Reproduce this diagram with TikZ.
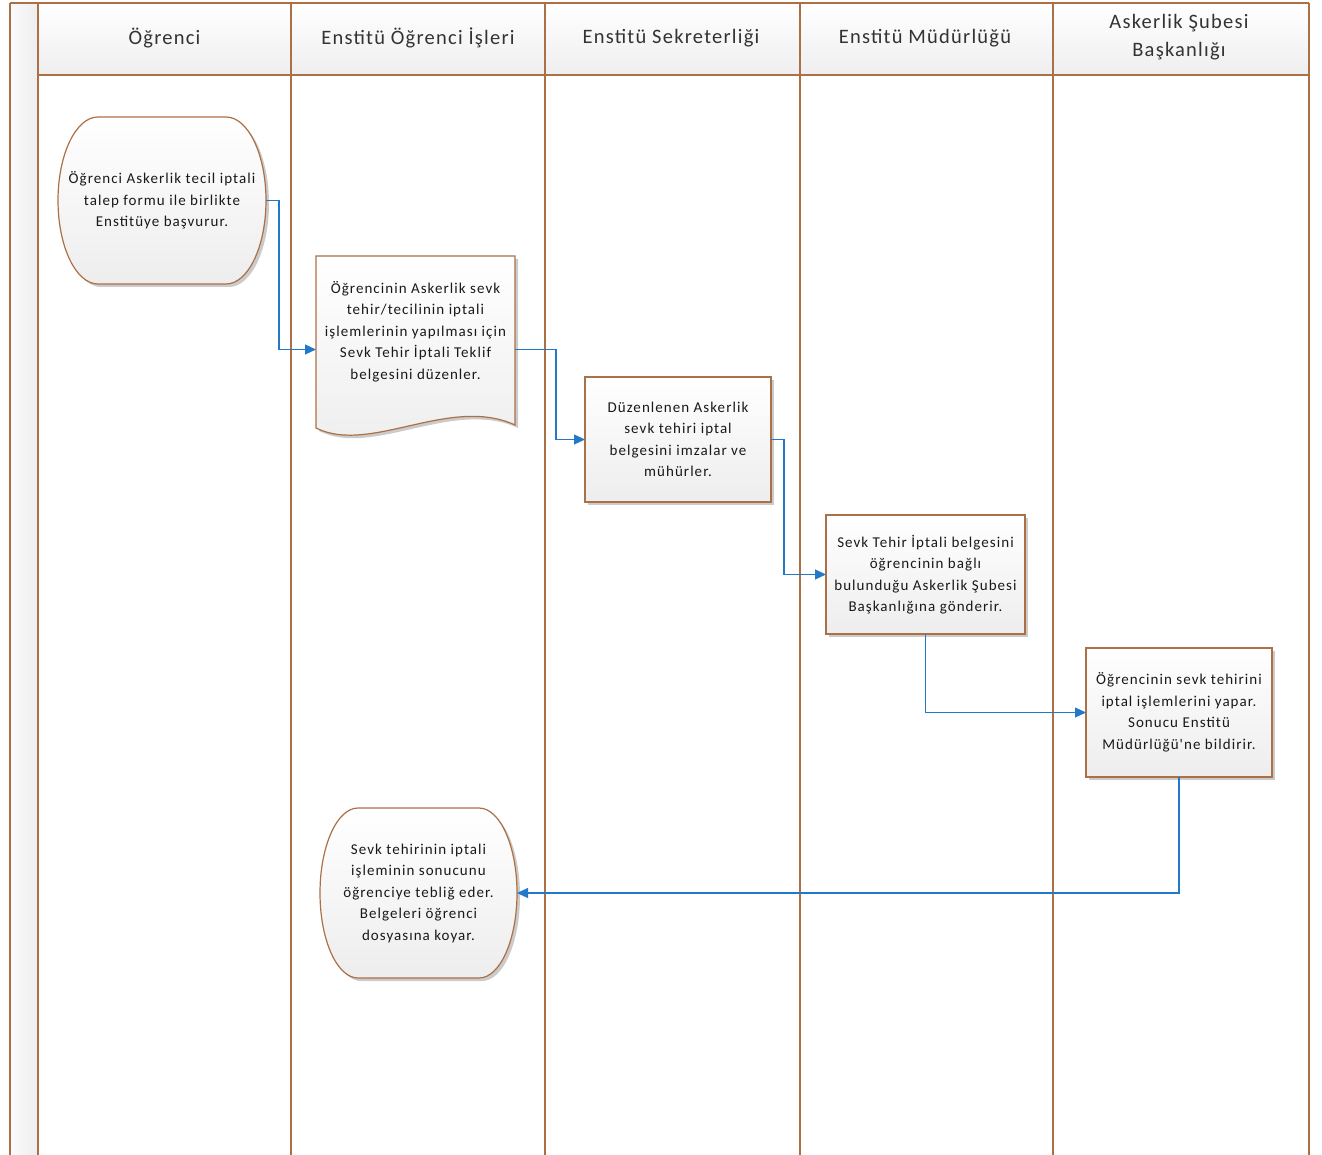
\documentclass[tikz,border=0pt]{standalone}
\usepackage{fontspec}
\setmainfont{Carlito}
\newfontfamily\flowfont[LetterSpace=7]{Carlito}
\newfontfamily\headfont[LetterSpace=6]{Carlito}
\usepackage{tikz}
\usetikzlibrary{arrows.meta,shadows,calc,backgrounds}
\definecolor{laneline}{RGB}{172,112,70}
\definecolor{flowblue}{RGB}{36,120,200}

\newcommand{\termshape}[3]{%
  \draw[shapeline] ([xshift=#2]#1.north west) -- ([xshift=-#2]#1.north east)
    arc[start angle=90,end angle=-90,x radius=#2,y radius=#3]
    -- ([xshift=#2]#1.south west)
    arc[start angle=270,end angle=90,x radius=#2,y radius=#3] -- cycle;}

\begin{document}
\begin{tikzpicture}[x=1pt,y=1pt,
  lane/.style={draw=laneline,line width=1.6pt},
  shapeline/.style={draw=laneline,line width=1.2pt,top color=white,bottom color=gray!14,
    drop shadow={shadow xshift=3pt,shadow yshift=-3pt,fill=black!45,opacity=.45}},
  head/.style={font=\headfont\fontsize{20.5}{28}\selectfont,align=center,text=black!80},
  txt/.style={font=\flowfont\fontsize{15}{21.5}\selectfont,align=center,inner sep=0pt,outer sep=0pt,text=black!90},
  box/.style={txt,shapeline,rectangle},
  flow/.style={draw=flowblue,line width=1.2pt,-{Triangle[length=11pt,width=10pt]}}]
\useasboundingbox (0,0) rectangle (1322,-1155);
%%Lanes
\shade[left color=gray!3,right color=gray!14] (10,-3) rectangle (38,-1160);
\shade[top color=white,bottom color=gray!13] (38,-3) rectangle (1309,-75);
\draw[lane] (10,-3) -- (1309,-3);
\draw[lane] (38,-75) -- (1309,-75);
\draw[lane] (10,-3) -- (10,-1160);
\draw[lane] (38,-3) -- (38,-1160);
\draw[lane] (291,-3) -- (291,-1160);
\draw[lane] (545,-3) -- (545,-1160);
\draw[lane] (800,-3) -- (800,-1160);
\draw[lane] (1053,-3) -- (1053,-1160);
\draw[lane] (1309,-3) -- (1309,-1160);
%%Headers
\node[head] (hOgrenci) at (164.5,-38) {Öğrenci};
\node[head] (hIsler) at (418,-38) {Enstitü Öğrenci İşleri};
\node[head] (hSekreter) at (671,-38) {Enstitü Sekreterliği};
\node[head] (hMudur) at (925,-38) {Enstitü Müdürlüğü};
\node[head] (hSube) at (1179,-37) {Askerlik Şubesi\\Başkanlığı};
%%Steps
\node[txt,minimum width=208pt,minimum height=167pt] (basvuru) at (162,-200.5)
  {Öğrenci Askerlik tecil iptali\\talep formu ile birlikte\\Enstitüye başvurur.};
\node[minimum width=199pt,minimum height=187pt,inner sep=0pt,outer sep=0pt] (dok) at (415.5,-349.5) {};
\node[txt] (doktext) at ([yshift=18pt]dok.center)
  {Öğrencinin Askerlik sevk\\tehir/tecilinin iptali\\işlemlerinin yapılması için\\Sevk Tehir İptali Teklif\\belgesini düzenler.};
\node[box,minimum width=186pt,minimum height=125pt] (imza) at (678,-439.5)
  {Düzenlenen Askerlik\\sevk tehiri iptal\\belgesini imzalar ve\\mühürler.};
\node[box,minimum width=199pt,minimum height=119pt] (mudur) at (925.5,-574.5)
  {Sevk Tehir İptali belgesini\\öğrencinin bağlı\\bulunduğu Askerlik Şubesi\\Başkanlığına gönderir.};
\node[box,minimum width=186pt,minimum height=129pt] (sube) at (1179,-712.5)
  {Öğrencinin sevk tehirini\\iptal işlemlerini yapar.\\Sonucu Enstitü\\Müdürlüğü'ne bildirir.};
\node[txt,minimum width=197pt,minimum height=170pt] (sonuc) at (418.5,-893)
  {Sevk tehirinin iptali\\işleminin sonucunu\\öğrenciye tebliğ eder.\\Belgeleri öğrenci\\dosyasına koyar.};
%%Outlines
\begin{scope}[on background layer]
\termshape{basvuru}{40pt}{83.5pt}
\termshape{sonuc}{38pt}{85pt}
\draw[shapeline] (dok.north west) -- (dok.north east) -- ($(dok.south east)+(0,18)$)
  .. controls ($(dok.south east)+(-65,48)$) and ($(dok.south west)+(54,-12)$) .. ($(dok.south west)+(0,15)$) -- cycle;
\end{scope}
%%Flow
\draw[flow] (basvuru.east) -- ++(13,0) |- (dok.west);
\draw[flow] (dok.east) -- ++(41,0) |- (imza.west);
\draw[flow] (imza.east) -- ++(13,0) |- (mudur.west);
\draw[flow] (mudur.south) |- (sube.west);
\draw[flow] (sube.south) |- (sonuc.east);
\end{tikzpicture}
\end{document}
